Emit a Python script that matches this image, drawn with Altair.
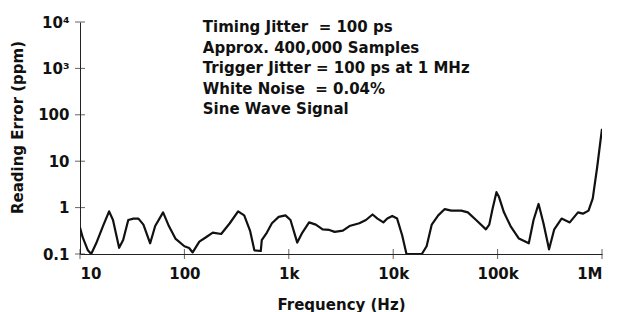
import altair as alt
import pandas as pd

# ---- data ----
freq_hz = [
    10, 10.6, 11.9, 12.8, 14.3, 16.6, 19, 20.7, 23.7, 25.9,
    29, 32.5, 36.3, 40.5, 47, 52.5, 62.5, 71, 82, 100,
    111, 120, 139, 161, 187, 225, 272, 327, 374, 425,
    468, 539, 551, 617, 689, 800, 929, 1038, 1205, 1349,
    1564, 1815, 2109, 2445, 2750, 3296, 3810, 4740, 5480, 6340,
    7070, 8050, 8780, 9790, 10900, 12200, 13400, 18800, 20900, 23400,
    27000, 31200, 36000, 44900, 51900, 62200, 77300, 83200, 89400, 97500,
    103000, 115000, 133000, 160000, 199000, 221000, 247000, 275000, 311000, 349000,
    410000, 491000, 589000, 656000, 743000, 816000, 847000, 899000, 968000, 1000000,
]
error_ppm = [
    0.37, 0.23, 0.12, 0.1, 0.17, 0.4, 0.83, 0.54, 0.136, 0.2,
    0.54, 0.58, 0.58, 0.43, 0.17, 0.4, 0.79, 0.4, 0.215, 0.147,
    0.135, 0.108, 0.185, 0.23, 0.29, 0.27, 0.46, 0.83, 0.68, 0.32,
    0.12, 0.116, 0.2, 0.29, 0.46, 0.63, 0.68, 0.54, 0.176, 0.29,
    0.48, 0.43, 0.34, 0.33, 0.30, 0.32, 0.4, 0.46, 0.54, 0.71,
    0.58, 0.48, 0.58, 0.66, 0.58, 0.25, 0.1, 0.1, 0.147, 0.43,
    0.68, 0.93, 0.86, 0.86, 0.79, 0.54, 0.34, 0.43, 0.93, 2.15,
    1.71, 0.79, 0.4, 0.215, 0.17, 0.54, 1.2, 0.46, 0.126, 0.34,
    0.58, 0.48, 0.79, 0.74, 0.86, 1.58, 2.9, 7.4, 28, 50,
]
x_ticks = [10, 100, 1000, 10000, 100000, 1000000]
x_tick_labels = ["10", "100", "1k", "10k", "100k", "1M"]
y_ticks = [0.1, 1, 10, 100, 1000, 10000]
y_tick_labels = ["0.1", "1", "10", "100", "10³", "10⁴"]
notes = [
    "Timing Jitter\u00a0 = 100 ps",
    "Approx. 400,000 Samples",
    "Trigger Jitter = 100 ps at 1 MHz",
    "White Noise\u00a0 = 0.04%",
    "Sine Wave Signal",
]
note_anchor_x = [150]
note_anchor_y = [10000]

FONT = "DejaVu Sans"


def label_expr(vals, labels):
    expr = "''"
    for v, l in reversed(list(zip(vals, labels))):
        expr = f"(abs(datum.value - {v}) < {v} * 1e-6) ? '{l}' : ({expr})"
    return expr


curve = pd.DataFrame({"f": freq_hz, "e": error_ppm})
xt = pd.DataFrame({"f": x_ticks, "e": [y_ticks[0]] * len(x_ticks)})
yt = pd.DataFrame({"f": [x_ticks[0]] * len(y_ticks), "e": y_ticks})
note_df = pd.DataFrame({"f": note_anchor_x, "e": note_anchor_y, "t": ["\n".join(notes)]})

xscale = alt.Scale(type="log", domain=[10, 1000000], nice=False)
yscale = alt.Scale(type="log", domain=[0.1, 10000], nice=False)

x_enc = alt.X(
    "f:Q",
    scale=xscale,
    axis=alt.Axis(
        title="Frequency (Hz)",
        values=x_ticks,
        labelExpr=label_expr(x_ticks, x_tick_labels),
        ticks=False,
        grid=False,
        domainColor="#222",
        domainWidth=1,
        labelFont=FONT,
        labelFontSize=15,
        labelFontWeight="bold",
        labelColor="#111",
        labelPadding=12,
        titleFont=FONT,
        titleFontSize=15,
        titleFontWeight="bold",
        titleColor="#111",
        titlePadding=16,
    ),
)
y_enc = alt.Y(
    "e:Q",
    scale=yscale,
    axis=alt.Axis(
        title="Reading Error (ppm)",
        values=y_ticks,
        labelExpr=label_expr(y_ticks, y_tick_labels),
        ticks=False,
        grid=False,
        domainColor="#222",
        domainWidth=1,
        labelFont=FONT,
        labelFontSize=15,
        labelFontWeight="bold",
        labelColor="#111",
        labelPadding=11,
        titleFont=FONT,
        titleFontSize=15,
        titleFontWeight="bold",
        titleColor="#111",
        titlePadding=12,
        titleY=105,
    ),
)

line = alt.Chart(curve).mark_line(color="#111", strokeWidth=2.2, strokeJoin="round", clip=True).encode(
    x=x_enc, y=y_enc
)
xtick_marks = alt.Chart(xt).mark_tick(orient="vertical", size=10, thickness=1, color="#222").encode(
    x=alt.X("f:Q", scale=xscale), y=alt.Y("e:Q", scale=yscale)
)
ytick_marks = alt.Chart(yt).mark_tick(orient="horizontal", size=10, thickness=1, color="#222").encode(
    x=alt.X("f:Q", scale=xscale), y=alt.Y("e:Q", scale=yscale)
)
note_mark = alt.Chart(note_df).mark_text(
    align="left", baseline="top", font=FONT, fontSize=15, fontWeight="bold", lineBreak="\n",
    lineHeight=20.5, color="#111", dy=-2
).encode(x=alt.X("f:Q", scale=xscale), y=alt.Y("e:Q", scale=yscale), text="t:N")

chart = (
    alt.layer(line, xtick_marks, ytick_marks, note_mark)
    .properties(
        width=522,
        height=232,
        autosize=alt.AutoSizeParams(type="none"),
        padding={"left": 72, "top": 14, "right": 8, "bottom": 58},
        background="white",
    )
    .configure_view(stroke=None)
)

chart.save("out.html", embed_options={"renderer": "svg", "actions": False})
